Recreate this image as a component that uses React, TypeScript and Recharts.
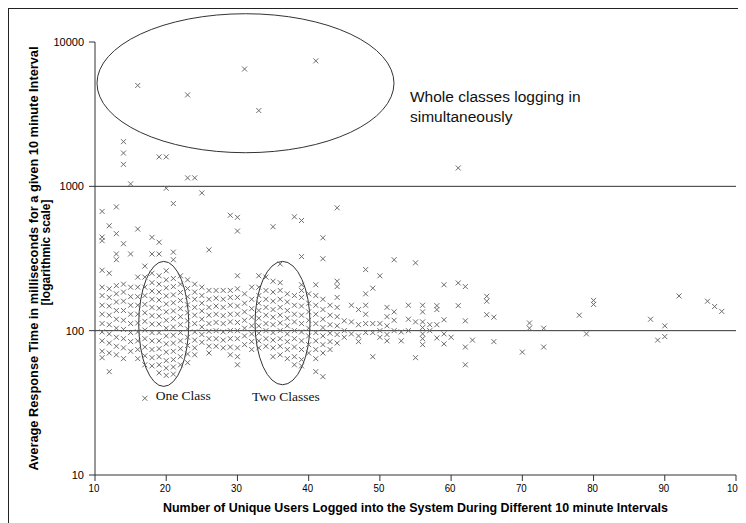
import React from 'react';
import {
  ScatterChart,
  Scatter,
  XAxis,
  YAxis,
  ReferenceLine,
  ReferenceArea,
  Label,
} from 'recharts';

// users logged in (x) and the response times seen at that user count (y, ms)
const userCounts = [
  11, 12, 13, 14, 15, 16, 17, 18, 19, 20, 21, 22, 23, 24, 25, 26, 27, 28, 29, 30,
  31, 32, 33, 34, 35, 36, 37, 38, 39, 40, 41, 42, 43, 44, 45, 46, 47, 48, 49, 50,
  51, 52, 53, 54, 55, 56, 57, 58, 59, 60, 61, 62, 63, 65, 66, 70, 71, 73, 78, 79,
  80, 88, 89, 90, 92, 96, 97, 98,
];

const responseMs = [
  [670, 445, 420, 262, 200, 175, 150, 130, 112, 98, 85, 72, 65],
  [533, 250, 195, 170, 148, 128, 110, 95, 82, 70, 52],
  [720, 470, 340, 310, 205, 180, 158, 138, 120, 104, 90, 78, 68],
  [2040, 1700, 1420, 400, 210, 185, 160, 138, 118, 102, 88, 76, 64],
  [1040, 340, 200, 172, 150, 130, 112, 97, 84, 72],
  [5000, 506, 235, 200, 172, 150, 130, 113, 98, 85, 74, 64],
  [280, 235, 200, 175, 152, 133, 116, 101, 88, 77, 67, 58, 34],
  [443, 340, 250, 215, 188, 165, 145, 127, 111, 97, 85, 74, 65, 57],
  [1600, 410, 340, 240, 210, 185, 163, 143, 126, 111, 97, 85, 75, 66, 58, 51],
  [1600, 970, 260, 225, 198, 174, 153, 135, 118, 104, 92, 81, 71, 62, 55, 49],
  [760, 350, 310, 230, 202, 177, 156, 137, 121, 106, 93, 82, 72, 63, 56, 50],
  [240, 210, 184, 162, 142, 125, 110, 97, 85, 75, 66, 58],
  [4300, 1145, 225, 196, 172, 151, 133, 117, 103, 90, 79, 69, 60],
  [1145, 210, 185, 165, 145, 128, 112, 98, 86, 76, 68],
  [900, 200, 175, 155, 137, 120, 106, 94, 83],
  [363, 190, 165, 145, 128, 112, 99, 88, 78, 70],
  [190, 168, 148, 130, 114, 100, 88, 78],
  [190, 165, 145, 127, 112, 98, 86, 76],
  [630, 190, 170, 150, 130, 115, 100, 88, 77, 68],
  [610, 490, 240, 195, 170, 148, 130, 114, 100, 88, 76, 66, 58],
  [6500, 180, 155, 135, 118, 104, 92, 80],
  [200, 165, 142, 124, 108, 95, 84, 74],
  [3350, 240, 200, 175, 155, 138, 122, 108, 96, 85, 76],
  [235, 190, 165, 145, 128, 112, 100, 88, 78],
  [525, 220, 185, 160, 140, 124, 110, 97, 86, 76, 66],
  [290, 215, 190, 165, 145, 128, 113, 100, 88, 78, 68],
  [180, 158, 138, 122, 108, 95, 84, 74, 64],
  [615, 175, 150, 130, 115, 100, 88, 77, 66, 58],
  [580, 326, 208, 190, 170, 148, 128, 112, 98, 85, 74, 63, 57],
  [180, 155, 135, 118, 104, 92, 80, 70],
  [7400, 208, 175, 150, 130, 112, 97, 85, 74, 64, 52],
  [440, 315, 165, 140, 120, 105, 92, 80, 70, 48],
  [150, 128, 110, 96, 84, 74],
  [710, 220, 202, 170, 145, 125, 108, 94, 82],
  [117, 100, 90],
  [150, 115, 95],
  [140, 110, 92, 84],
  [265, 180, 150, 130, 112, 97],
  [197, 112, 97, 66],
  [240, 112, 100, 90],
  [145, 125, 108, 94, 85],
  [310, 135, 118, 100],
  [98, 85],
  [150, 120, 100],
  [295, 115, 65],
  [150, 135, 115, 105, 95, 88, 80],
  [110, 100],
  [149, 140, 110, 89],
  [208, 119, 95, 81],
  [90],
  [1340, 214, 149],
  [202, 117, 77, 58],
  [86],
  [173, 160, 129],
  [124, 84],
  [71],
  [113, 104],
  [104, 77],
  [128],
  [95],
  [162, 152],
  [120],
  [86],
  [108, 91],
  [174],
  [160],
  [147],
  [136],
];

const xTicks = [10, 20, 30, 40, 50, 60, 70, 80, 90, 100];
const yTicks = [10, 100, 1000, 10000];
const gridValues = [100, 1000];

// annotation ellipses, bounds in data units
const ellipses = [
  { key: 'whole', x1: 10.28, x2: 51.98, y1: 1710, y2: 15700 },
  { key: 'one', x1: 16.14, x2: 23.16, y1: 41.1, y2: 302 },
  { key: 'two', x1: 32.47, x2: 40.19, y1: 42.2, y2: 302 },
];

const points = userCounts.flatMap((users, i) =>
  responseMs[i].map((ms) => ({ users, ms }))
);

const FONT = 'Arial, "Liberation Sans", sans-serif';
const SERIF = '"Liberation Serif", "Times New Roman", serif';

function Cross(props: any) {
  const { cx, cy } = props;
  if (cx == null || cy == null) return null;
  const h = 2.5;
  return (
    <path
      d={`M${cx - h},${cy - h}L${cx + h},${cy + h}M${cx - h},${cy + h}L${cx + h},${cy - h}`}
      stroke="#6c6c6c"
      strokeWidth={1}
      fill="none"
    />
  );
}

// x tick labels in a slightly narrow face, like the original
function XTick(props: any) {
  const { x, y, payload } = props;
  const s = String(payload.value);
  return (
    <text
      x={x - 1}
      y={y + 9}
      textAnchor="middle"
      fontFamily={FONT}
      fontSize={11.5}
      fill="#000"
      textLength={s.length * 5.4}
      lengthAdjust="spacingAndGlyphs"
    >
      {s}
    </text>
  );
}

function EllipseShape(props: any) {
  const { x, y, width, height, name } = props;
  const cx = x + width / 2;
  const cy = y + height / 2;
  return (
    <g>
      <ellipse cx={cx} cy={cy} rx={width / 2} ry={height / 2} fill="none" stroke="#333" strokeWidth={1} />
      {name === 'whole' && (
        <text y={cy + 19} fontFamily={FONT} fontSize={15.5} fill="#111">
          <tspan x={x + width + 16}>Whole classes logging in</tspan>
          <tspan x={x + width + 16} dy={20}>simultaneously</tspan>
        </text>
      )}
      {name === 'one' && (
        <text x={x + 17} y={y + height + 14} fontFamily={SERIF} fontSize={13.5} fill="#111">
          One Class
        </text>
      )}
      {name === 'two' && (
        <text x={x - 3} y={y + height + 16} fontFamily={SERIF} fontSize={13.5} fill="#111">
          Two Classes
        </text>
      )}
    </g>
  );
}

function YTitle(props: any) {
  const { viewBox } = props;
  const cy = viewBox.y + viewBox.height / 2;
  return (
    <g fontFamily={FONT} fontWeight="bold" fontSize={12} fill="#000">
      <text x={29} y={cy} textAnchor="middle" transform={`rotate(-90 29 ${cy})`} textLength={424} lengthAdjust="spacingAndGlyphs">
        Average Response Time in milliseconds for a given 10 minute Interval
      </text>
      <text x={41} y={cy - 6} textAnchor="middle" transform={`rotate(-90 41 ${cy - 6})`}>
        [logarithmic scale]
      </text>
    </g>
  );
}

function XTitle(props: any) {
  const { viewBox } = props;
  return (
    <text
      x={viewBox.x + viewBox.width / 2}
      y={503}
      textAnchor="middle"
      fontFamily={FONT}
      fontWeight="bold"
      fontSize={12}
      fill="#000"
      textLength={505}
      lengthAdjust="spacingAndGlyphs"
    >
      Number of Unique Users Logged into the System During Different 10 minute Intervals
    </text>
  );
}

export default function App() {
  return (
    <div
      style={{
        width: 738,
        height: 520,
        border: '1px solid #222',
        boxSizing: 'border-box',
        background: '#fff',
        fontFamily: FONT,
      }}
    >
      <style>{'html { overflow: hidden; } .recharts-surface { overflow: visible; }'}</style>
      <ScatterChart
        width={736}
        height={513}
        margin={{ top: 33, right: 9, bottom: 0, left: 0 }}
      >
        <XAxis
          type="number"
          dataKey="users"
          domain={[10, 100]}
          ticks={xTicks}
          interval={0}
          tickSize={6}
          height={47}
          tick={<XTick />}
          axisLine={{ stroke: '#333' }}
          tickLine={{ stroke: '#333' }}
        >
          <Label content={<XTitle />} />
        </XAxis>
        <YAxis
          type="number"
          dataKey="ms"
          scale="log"
          domain={[10, 10000]}
          ticks={yTicks}
          interval={0}
          allowDataOverflow
          width={86}
          tickSize={6}
          tickMargin={5}
          tick={{ fontSize: 11, fill: '#000', fontFamily: FONT }}
          axisLine={{ stroke: '#333' }}
          tickLine={{ stroke: '#333' }}
        >
          <Label content={<YTitle />} />
        </YAxis>
        {gridValues.map((v) => (
          <ReferenceLine key={v} y={v} stroke="#333" strokeWidth={1} ifOverflow="visible" />
        ))}
        {ellipses.map((e) => (
          <ReferenceArea
            key={e.key}
            x1={e.x1}
            x2={e.x2}
            y1={e.y1}
            y2={e.y2}
            ifOverflow="visible"
            shape={(p: any) => <EllipseShape {...p} name={e.key} />}
          />
        ))}
        <Scatter data={points} shape={<Cross />} isAnimationActive={false} />
      </ScatterChart>
    </div>
  );
}
